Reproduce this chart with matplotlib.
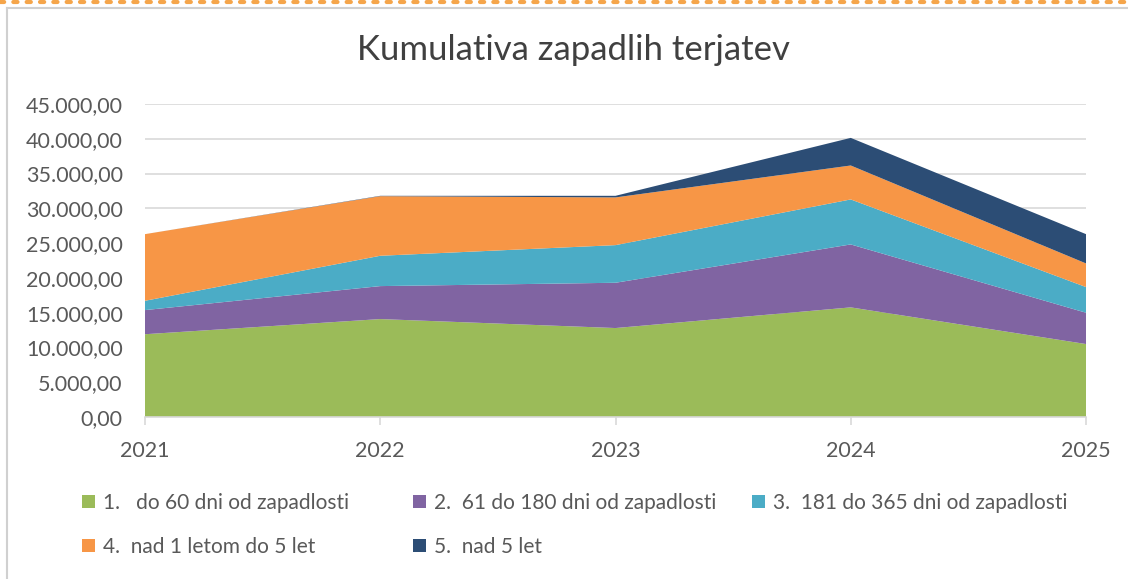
# stacked area chart: kumulativa zapadlih terjatev

import matplotlib.pyplot as plt
from matplotlib.ticker import FuncFormatter
from matplotlib.patches import Patch
from matplotlib.lines import Line2D

# podatki
leta = [2021, 2022, 2023, 2024, 2025]
do_60 = [11900, 14080, 12790, 15760, 10490]
od_61_do_180 = [3470, 4740, 6510, 9050, 4500]
od_181_do_365 = [1340, 4360, 5410, 6470, 3690]
nad_1_do_5 = [9580, 8570, 6860, 4880, 3400]
nad_5 = [0, 50, 230, 3970, 4210]

oznake = ['1.   do 60 dni od zapadlosti',
          '2.  61 do 180 dni od zapadlosti',
          '3.  181 do 365 dni od zapadlosti',
          '4.  nad 1 letom do 5 let',
          '5.  nad 5 let']
barve = ['#9BBB59', '#8064A2', '#4BACC6', '#F79646', '#2C4D75']

plt.rcParams['font.family'] = ['Lato', 'DejaVu Sans']
siva = '#595959'

fig = plt.figure(figsize=(11.28, 5.79), dpi=100, facecolor='white')
ax = fig.add_axes([145 / 1128, 1 - 417 / 579, (1086 - 145) / 1128, (417 - 104) / 579])

ax.stackplot(leta, do_60, od_61_do_180, od_181_do_365, nad_1_do_5, nad_5,
             colors=barve, linewidth=0, zorder=3)

ax.set_xlim(2021, 2025)
ax.set_ylim(0, 45000)
ax.set_yticks(range(0, 45001, 5000))
ax.set_xticks(leta)
ax.yaxis.set_major_formatter(FuncFormatter(
    lambda v, p: f'{v:,.2f}'.replace(',', 'X').replace('.', ',').replace('X', '.')))
ax.grid(axis='y', color='#D9D9D9', linewidth=1.2, zorder=0)
for s in ['top', 'right', 'left']:
    ax.spines[s].set_visible(False)
ax.spines['bottom'].set_color('#D9D9D9')
ax.spines['bottom'].set_linewidth(1.2)
ax.spines['bottom'].set_zorder(4)
ax.tick_params(axis='y', length=0, labelsize=15.5, labelcolor=siva, pad=16)
ax.tick_params(axis='x', length=6, color='#D9D9D9', width=1.2, labelsize=15.5,
               labelcolor=siva, pad=11)

# naslov
fig.text(573 / 1128, 1 - 50 / 579, 'Kumulativa zapadlih terjatev', ha='center',
         va='center', fontsize=25, color='#404040')

# legenda - vsak vnos posebej, po vrsticah
polozaji = [(82, 503), (413, 503), (752, 503), (82, 547), (413, 547)]
for i, (px, py) in enumerate(polozaji):
    lg = fig.legend([Patch(facecolor=barve[i])], [oznake[i]], loc='center left',
                    bbox_to_anchor=(px / 1128, 1 - py / 579), frameon=False,
                    fontsize=15, labelcolor=siva, handlelength=0.6,
                    handleheight=0.6, handletextpad=0.4, borderpad=0,
                    borderaxespad=0)

# okvir grafikona
fig.add_artist(Line2D([7 / 1128, 7 / 1128], [0, 1 - 8 / 579], color='#D0D0D0',
                      linewidth=1.5, transform=fig.transFigure))
fig.add_artist(Line2D([7 / 1128, 1], [1 - 8 / 579, 1 - 8 / 579],
                      color='#D0D0D0', linewidth=1.5, transform=fig.transFigure))
fig.add_artist(Line2D([0, 1], [1 - 2 / 579, 1 - 2 / 579], color='#F5A54A',
                      linewidth=3, linestyle=(0, (1, 2.2)), dash_capstyle='round',
                      transform=fig.transFigure))

fig.savefig('out.png', dpi=100, facecolor='white')
